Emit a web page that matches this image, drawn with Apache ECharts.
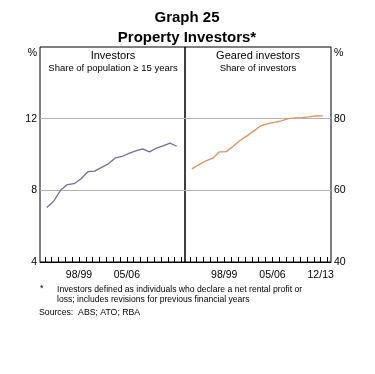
<!DOCTYPE html>
<html><head><meta charset="utf-8">
<script src="https://cdn.jsdelivr.net/npm/echarts@6/dist/echarts.min.js"></script>
<style>html,body{margin:0;padding:0;background:#fff}#c{width:375px;height:374px}</style>
</head><body><div id="c"></div>
<script>
// ---- data ----
const years = ['93/94','94/95','95/96','96/97','97/98','98/99','99/00','00/01','01/02','02/03',
               '03/04','04/05','05/06','06/07','07/08','08/09','09/10','10/11','11/12','12/13','13/14'];
const investorsShare = [7.04,7.39,8.0,8.32,8.37,8.65,9.04,9.07,9.28,9.48,9.81,9.89,10.06,10.2,10.31,10.15,10.35,10.48,10.63,10.46];
const gearedShare = [66.0,67.1,68.2,68.9,70.75,70.8,72.3,73.9,75.2,76.6,78.0,78.6,78.95,79.4,80.0,80.2,80.3,80.5,80.75,80.8];
const leftTickLabels = ['98/99','05/06'];
const rightTickLabels = ['98/99','05/06','12/13'];
const leftYTicks = [4,8,12];
const rightYTicks = [40,60,80];

// ---- style ----
const FONT = '"Liberation Sans", Arial, sans-serif';
const POINT_OFFSET = 0.3;
const tickVals = years.map((_, i) => i);

function xAxisFor(gridIndex, labels) {
  return {
    type: 'value', gridIndex, min: -0.7, max: 20.5,
    axisLine: { show: true, onZero: false, lineStyle: { color: '#000', width: 1 } },
    axisTick: { show: true, inside: true, length: 5, lineStyle: { color: '#000', width: 1 }, customValues: tickVals },
    axisLabel: { show: true, customValues: labels.map(l => years.indexOf(l)),
      formatter: v => years[Math.round(v)] || '', color: '#000', fontSize: 10.5, margin: 8, fontFamily: FONT },
    splitLine: { show: false }
  };
}
function yAxisFor(gridIndex, pos, min, max, interval, shown) {
  return {
    type: 'value', gridIndex, position: pos, min, max, interval,
    axisLine: { show: false }, axisTick: { show: false },
    axisLabel: { color: '#000', fontSize: 10.5, fontFamily: FONT, margin: 3,
      formatter: v => shown.includes(v) ? String(v) : '' },
    splitLine: { show: true, showMinLine: false, showMaxLine: false, lineStyle: { color: '#b2b2b2', width: 1 } }
  };
}

const chart = echarts.init(document.getElementById('c'), null, { renderer: 'canvas' });
chart.setOption({
  animation: false,
  backgroundColor: '#fff',
  grid: [
    { left: 40, top: 47, width: 145, height: 215, show: true, borderColor: '#000', borderWidth: 1, backgroundColor: 'transparent' },
    { left: 185, top: 47, width: 146, height: 215, show: true, borderColor: '#000', borderWidth: 1, backgroundColor: 'transparent' }
  ],
  xAxis: [xAxisFor(0, leftTickLabels), xAxisFor(1, rightTickLabels)],
  yAxis: [yAxisFor(0, 'left', 4, 16, 4, leftYTicks), yAxisFor(1, 'right', 40, 100, 20, rightYTicks)],
  series: [
    { type: 'line', xAxisIndex: 0, yAxisIndex: 0, showSymbol: false, symbol: 'none',
      lineStyle: { color: '#726e9e', width: 1.3 },
      data: investorsShare.map((v, i) => [i + POINT_OFFSET, v]) },
    { type: 'line', xAxisIndex: 1, yAxisIndex: 1, showSymbol: false, symbol: 'none',
      lineStyle: { color: '#e2905c', width: 1.3 },
      data: gearedShare.map((v, i) => [i + POINT_OFFSET, v]) }
  ],
  graphic: [
    { type: 'text', style: { text: 'Graph 25', x: 187, y: 18, align: 'center', verticalAlign: 'middle', font: 'bold 15px ' + FONT, fill: '#000' } },
    { type: 'text', style: { text: 'Property Investors*', x: 187, y: 38, align: 'center', verticalAlign: 'middle', font: 'bold 15px ' + FONT, fill: '#000' } },
    { type: 'text', style: { text: 'Investors', x: 113, y: 56, align: 'center', verticalAlign: 'middle', font: '11px ' + FONT, fill: '#000' } },
    { type: 'text', style: { text: 'Share of population \u2265 15 years', x: 113, y: 68, align: 'center', verticalAlign: 'middle', font: '9.5px ' + FONT, fill: '#000' } },
    { type: 'text', style: { text: 'Geared investors', x: 258, y: 56, align: 'center', verticalAlign: 'middle', font: '11px ' + FONT, fill: '#000' } },
    { type: 'text', style: { text: 'Share of investors', x: 258, y: 68, align: 'center', verticalAlign: 'middle', font: '9.5px ' + FONT, fill: '#000' } },
    { type: 'text', style: { text: '%', x: 37, y: 53, align: 'right', verticalAlign: 'middle', font: '10.5px ' + FONT, fill: '#000' } },
    { type: 'text', style: { text: '%', x: 334, y: 53, align: 'left', verticalAlign: 'middle', font: '10.5px ' + FONT, fill: '#000' } },
    { type: 'text', style: { text: '*', x: 40, y: 289, align: 'left', verticalAlign: 'middle', font: '8.7px ' + FONT, fill: '#000' } },
    { type: 'text', style: { text: 'Investors defined as individuals who declare a net rental profit or', x: 57, y: 290, align: 'left', verticalAlign: 'middle', font: '8.6px ' + FONT, fill: '#000' } },
    { type: 'text', style: { text: 'loss; includes revisions for previous financial years', x: 57, y: 300, align: 'left', verticalAlign: 'middle', font: '8.6px ' + FONT, fill: '#000' } },
    { type: 'text', style: { text: 'Sources:  ABS; ATO; RBA', x: 39, y: 313, align: 'left', verticalAlign: 'middle', font: '8.7px ' + FONT, fill: '#000' } }
  ]
});
</script>
</body></html>
